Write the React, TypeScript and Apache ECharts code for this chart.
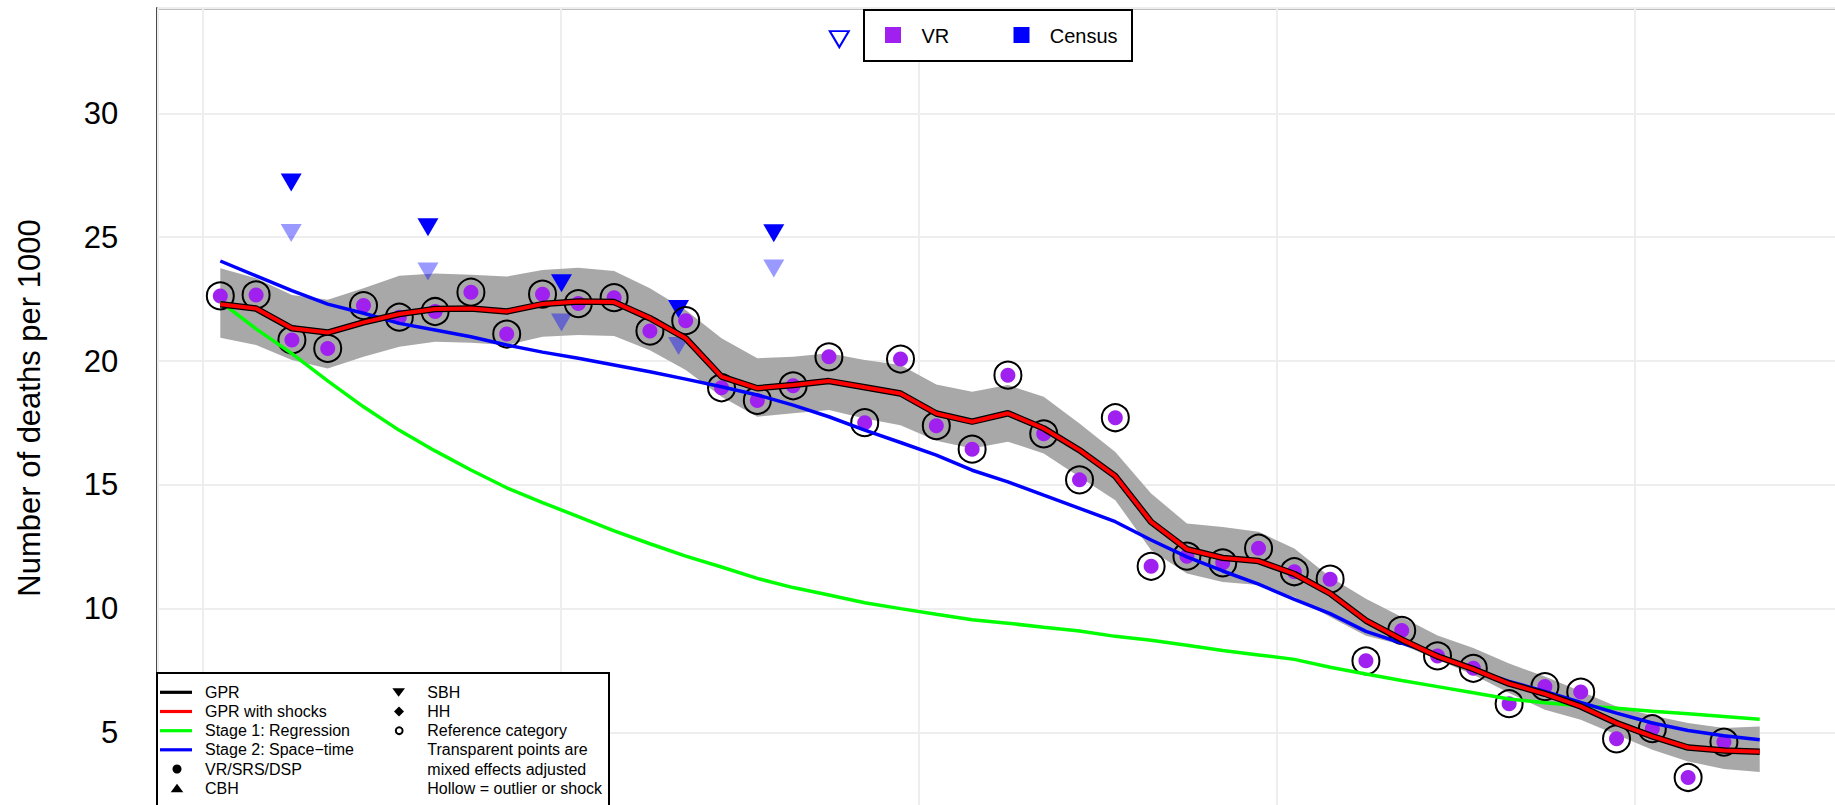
import { useEffect, useRef } from 'react';
import * as echarts from 'echarts';

// ---------- data ----------
const years = [
  1970.5, 1971.5, 1972.5, 1973.5, 1974.5, 1975.5, 1976.5, 1977.5, 1978.5, 1979.5,
  1980.5, 1981.5, 1982.5, 1983.5, 1984.5, 1985.5, 1986.5, 1987.5, 1988.5, 1989.5,
  1990.5, 1991.5, 1992.5, 1993.5, 1994.5, 1995.5, 1996.5, 1997.5, 1998.5, 1999.5,
  2000.5, 2001.5, 2002.5, 2003.5, 2004.5, 2005.5, 2006.5, 2007.5, 2008.5, 2009.5,
  2010.5, 2011.5, 2012.5, 2013.5,
];

const gpr = [
  22.29, 22.12, 21.32, 21.15, 21.56, 21.9, 22.1, 22.12, 22.0, 22.3,
  22.4, 22.38, 21.73, 20.92, 19.37, 18.9, 19.03, 19.19, 18.94, 18.69,
  17.88, 17.55, 17.89, 17.28, 16.4, 15.35, 13.5, 12.4, 12.05, 11.92,
  11.4, 10.61, 9.52, 8.75, 8.07, 7.56, 6.97, 6.56, 6.05, 5.38,
  4.84, 4.39, 4.27, 4.22,
];

const gprWithShocks = [
  22.29, 22.12, 21.32, 21.15, 21.56, 21.9, 22.1, 22.12, 22.0, 22.3,
  22.4, 22.38, 21.73, 20.92, 19.37, 18.9, 19.03, 19.19, 18.94, 18.69,
  17.88, 17.55, 17.89, 17.28, 16.4, 15.35, 13.5, 12.4, 12.05, 11.92,
  11.4, 10.61, 9.52, 8.75, 8.07, 7.56, 6.97, 6.56, 6.05, 5.38,
  4.84, 4.39, 4.27, 4.22,
];

const gprUpper = [
  23.75, 23.34, 22.67, 22.47, 22.94, 23.44, 23.54, 23.48, 23.41, 23.68,
  23.77, 23.64, 22.94, 22.06, 20.92, 20.11, 20.17, 20.31, 20.04, 19.84,
  19.05, 18.76, 19.03, 18.56, 17.48, 16.33, 14.65, 13.44, 13.3, 13.1,
  12.43, 11.28, 10.4, 9.66, 8.91, 8.41, 7.78, 7.26, 6.66, 6.05,
  5.68, 5.38, 5.18, 5.24,
];

const gprLower = [
  20.94, 20.65, 20.04, 19.7, 20.17, 20.58, 20.78, 20.74, 20.65, 20.98,
  21.05, 21.01, 20.44, 19.64, 18.56, 17.75, 17.89, 18.02, 17.68, 17.41,
  16.78, 16.47, 16.74, 16.27, 15.32, 14.38, 12.36, 11.42, 11.08, 10.95,
  10.47, 9.66, 8.9, 8.54, 7.94, 7.33, 6.59, 5.92, 5.51, 4.91,
  4.3, 3.83, 3.52, 3.4,
];

const stage1 = [
  22.4, 21.3, 20.3, 19.2, 18.15, 17.2, 16.37, 15.6, 14.88, 14.28,
  13.72, 13.14, 12.62, 12.12, 11.68, 11.22, 10.85, 10.55, 10.24, 10.0,
  9.77, 9.55, 9.41, 9.25, 9.1, 8.88, 8.72, 8.52, 8.31, 8.13,
  7.95, 7.63, 7.36, 7.1, 6.85, 6.6, 6.35, 6.2, 6.08, 5.98,
  5.86, 5.75, 5.64, 5.53,
];

const stage2 = [
  24.04, 23.44, 22.84, 22.3, 21.93, 21.52, 21.25, 20.98, 20.65, 20.36,
  20.11, 19.84, 19.57, 19.27, 18.96, 18.63, 18.22, 17.75, 17.21, 16.71,
  16.2, 15.59, 15.12, 14.58, 14.05, 13.51, 12.77, 12.09, 11.52, 10.99,
  10.37, 9.8, 9.08, 8.61, 8.14, 7.53, 7.06, 6.66, 6.21, 5.78,
  5.38, 5.08, 4.87, 4.7,
];

const vrYears = [
  1970.5, 1971.5, 1972.5, 1973.5, 1974.5, 1975.5, 1976.5, 1977.5, 1978.5, 1979.5,
  1980.5, 1981.5, 1982.5, 1983.5, 1984.5, 1985.5, 1986.5, 1987.5, 1988.5, 1989.5,
  1990.5, 1991.5, 1992.5, 1993.5, 1994.5, 1995.5, 1996.5, 1997.5, 1998.5, 1999.5,
  2000.5, 2001.5, 2002.5, 2003.5, 2004.5, 2005.5, 2006.5, 2007.5, 2008.5, 2009.5,
  2010.5, 2011.5, 2012.5,
];
const vrValues = [
  22.63, 22.67, 20.85, 20.51, 22.24, 21.77, 22.0, 22.78, 21.09, 22.7,
  22.32, 22.56, 21.21, 21.63, 18.92, 18.41, 19.0, 20.17, 17.51, 20.08,
  17.39, 16.44, 19.43, 17.06, 15.2, 17.71, 11.71, 12.12, 11.85, 12.44,
  11.49, 11.19, 7.89, 9.12, 8.09, 7.59, 6.16, 6.85, 6.63, 4.74,
  5.15, 3.18, 4.61,
];

const sbhYears = [1972.48, 1976.3, 1980.03, 1983.3, 1985.96];
const sbhRaw = [27.21, 25.4, 23.14, 22.1, 25.16];
const sbhAdjusted = [25.17, 23.62, 21.56, 20.61, 23.74];
const sbhOutlierYears = [1987.79];
const sbhOutlierValues = [33.0];

const yTicks = [5, 10, 15, 20, 25, 30];
const yTitle = 'Number of deaths per 1000';
const topLegendLabels = ['VR', 'Census'];
const bottomLegendLeft = ['GPR', 'GPR with shocks', 'Stage 1: Regression', 'Stage 2: Space\u2212time', 'VR/SRS/DSP', 'CBH'];
const bottomLegendRight = ['SBH', 'HH', 'Reference category', 'Transparent points are', 'mixed effects adjusted', 'Hollow = outlier or shock'];

// ---------- layout / style ----------
const FONT = '"Liberation Sans", Arial, Helvetica, sans-serif';
const X_MIN = 1968.74;
const X_MAX = 2016.03;
const Y_MIN = 1.98;
const Y_MAX = 34.25;
const TRI_DOWN = 'path://M0,0L20,0L10,17Z';
const PURPLE = '#A020F0';
const BLUE = '#0000FF';

const pairs = (xs: number[], ys: number[]) => xs.map((x, i) => [x, ys[i]]);

function buildOption(): any {
  const legendRowsY = [692.3, 711.5, 730.7, 749.8, 769.0, 788.2];
  const leftLineColors = ['#000000', '#FF0000', '#00FF00', '#0000FF'];
  const g: any[] = [];

  // y axis title
  g.push({
    type: 'text', x: 29, y: 408, rotation: Math.PI / 2, z: 100,
    style: { text: yTitle, font: `31px ${FONT}`, fill: '#000', textAlign: 'center', textVerticalAlign: 'middle' },
  });

  // top legend
  g.push({ type: 'rect', z: 100, shape: { x: 864, y: 10, width: 268, height: 51 }, style: { fill: '#fff', stroke: '#000', lineWidth: 2 } });
  g.push({ type: 'rect', z: 101, shape: { x: 885, y: 27, width: 16, height: 16 }, style: { fill: PURPLE } });
  g.push({ type: 'text', z: 101, x: 921.5, y: 35.5, style: { text: topLegendLabels[0], font: `20px ${FONT}`, fill: '#000', textAlign: 'left', textVerticalAlign: 'middle' } });
  g.push({ type: 'rect', z: 101, shape: { x: 1013.5, y: 27, width: 16, height: 16 }, style: { fill: BLUE } });
  g.push({ type: 'text', z: 101, x: 1049.7, y: 35.5, style: { text: topLegendLabels[1], font: `20px ${FONT}`, fill: '#000', textAlign: 'left', textVerticalAlign: 'middle' } });

  // bottom legend box
  g.push({ type: 'rect', z: 100, shape: { x: 157, y: 673, width: 452, height: 200 }, style: { fill: '#fff', stroke: '#000', lineWidth: 2 } });
  leftLineColors.forEach((c, i) => {
    g.push({ type: 'line', z: 101, shape: { x1: 160, y1: legendRowsY[i], x2: 192, y2: legendRowsY[i] }, style: { stroke: c, lineWidth: 3.2 } });
  });
  g.push({ type: 'circle', z: 101, shape: { cx: 177, cy: legendRowsY[4], r: 4.5 }, style: { fill: '#000' } });
  g.push({ type: 'polygon', z: 101, shape: { points: [[170.7, legendRowsY[5] + 4], [183.3, legendRowsY[5] + 4], [177, legendRowsY[5] - 4.5]] }, style: { fill: '#000' } });
  bottomLegendLeft.forEach((t, i) => {
    g.push({ type: 'text', z: 101, x: 205, y: legendRowsY[i], style: { text: t, font: `16px ${FONT}`, fill: '#000', textAlign: 'left', textVerticalAlign: 'middle' } });
  });
  g.push({ type: 'polygon', z: 101, shape: { points: [[392.3, legendRowsY[0] - 4], [405, legendRowsY[0] - 4], [398.65, legendRowsY[0] + 4.5]] }, style: { fill: '#000' } });
  g.push({ type: 'polygon', z: 101, shape: { points: [[399, legendRowsY[1] - 5], [404, legendRowsY[1]], [399, legendRowsY[1] + 5], [394, legendRowsY[1]]] }, style: { fill: '#000' } });
  g.push({ type: 'circle', z: 101, shape: { cx: 399.2, cy: legendRowsY[2], r: 3.4 }, style: { fill: 'none', stroke: '#000', lineWidth: 2 } });
  bottomLegendRight.forEach((t, i) => {
    g.push({ type: 'text', z: 101, x: 427.3, y: legendRowsY[i], style: { text: t, font: `16px ${FONT}`, fill: '#000', textAlign: 'left', textVerticalAlign: 'middle' } });
  });

  return {
    animation: false,
    backgroundColor: '#ffffff',
    grid: {
      left: 157.3, top: 8.2, width: 1693, height: 799,
      show: true, borderColor: '#000', borderWidth: 2, backgroundColor: 'rgba(0,0,0,0)',
      containLabel: false, outerBoundsMode: 'none',
    },
    xAxis: {
      type: 'value', min: X_MIN, max: X_MAX, minInterval: 10, maxInterval: 10,
      axisLine: { show: false }, axisTick: { show: false }, axisLabel: { show: false },
      splitLine: { show: true, lineStyle: { color: '#EEEEEE', width: 2 } },
    },
    yAxis: {
      type: 'value', min: Y_MIN, max: Y_MAX, minInterval: 5, maxInterval: 5,
      axisLine: { show: false }, axisTick: { show: false },
      splitLine: { show: true, lineStyle: { color: '#EEEEEE', width: 2 } },
      axisLabel: {
        show: true, fontSize: 31, fontFamily: FONT, color: '#000', margin: 39,
        showMinLabel: false, showMaxLabel: false,
        formatter: (v: number) => (yTicks.includes(Math.round(v * 1000) / 1000) ? String(Math.round(v)) : ''),
      },
    },
    series: [
      {
        name: 'GPR uncertainty', type: 'custom', silent: true,
        data: years.map((x, i) => [x, gprLower[i], gprUpper[i]]),
        encode: { x: 0, y: [1, 2] },
        renderItem: (params: any, api: any) => {
          if (params.dataIndex !== 0) return null;
          const top = years.map((x, i) => api.coord([x, gprUpper[i]]));
          const bottom = years.map((x, i) => api.coord([x, gprLower[i]])).reverse();
          return { type: 'polygon', shape: { points: top.concat(bottom) }, style: { fill: '#A8A8A8' } };
        },
      },
      {
        name: 'Stage 1: Regression', type: 'line', silent: true, symbol: 'none', showSymbol: false,
        data: pairs(years, stage1), lineStyle: { color: '#00FF00', width: 3.5 },
      },
      {
        name: 'Stage 2: Space\u2212time', type: 'line', silent: true, symbol: 'none', showSymbol: false,
        data: pairs(years, stage2), lineStyle: { color: BLUE, width: 3.5 },
      },
      {
        name: 'GPR', type: 'line', silent: true, symbol: 'none', showSymbol: false,
        data: pairs(years, gpr), lineStyle: { color: '#000000', width: 6.5 },
      },
      {
        name: 'GPR with shocks', type: 'line', silent: true, symbol: 'none', showSymbol: false,
        data: pairs(years, gprWithShocks), lineStyle: { color: '#FF0000', width: 4 },
      },
      {
        name: 'Census SBH adjusted', type: 'scatter', silent: true, symbol: TRI_DOWN, symbolSize: [21, 18],
        data: pairs(sbhYears, sbhAdjusted), itemStyle: { color: 'rgba(0,0,255,0.4)', opacity: 1 },
      },
      {
        name: 'Census SBH', type: 'scatter', silent: true, symbol: TRI_DOWN, symbolSize: [21, 18],
        data: pairs(sbhYears, sbhRaw), itemStyle: { color: BLUE, opacity: 1 },
      },
      {
        name: 'Census SBH outlier', type: 'scatter', silent: true, symbol: TRI_DOWN, symbolSize: [19, 16],
        data: pairs(sbhOutlierYears, sbhOutlierValues),
        itemStyle: { color: 'rgba(0,0,0,0)', borderColor: BLUE, borderWidth: 2, opacity: 1 },
      },
      {
        name: 'VR', type: 'scatter', silent: true, symbol: 'circle', symbolSize: 15,
        data: pairs(vrYears, vrValues), itemStyle: { color: PURPLE, opacity: 1 },
      },
      {
        name: 'Reference category', type: 'scatter', silent: true, symbol: 'circle', symbolSize: 27,
        data: pairs(vrYears, vrValues),
        itemStyle: { color: 'rgba(0,0,0,0)', borderColor: '#000', borderWidth: 2, opacity: 1 },
      },
    ],
    graphic: { elements: g },
  };
}

export default function App() {
  const ref = useRef<HTMLDivElement>(null);
  useEffect(() => {
    if (!ref.current) return;
    const chart = echarts.init(ref.current, undefined, { renderer: 'svg' });
    chart.setOption(buildOption());
    return () => chart.dispose();
  }, []);
  return (
    <div
      ref={ref}
      style={{ position: 'fixed', left: 0, top: 0, width: 1835, height: 805, background: '#fff' }}
    />
  );
}
